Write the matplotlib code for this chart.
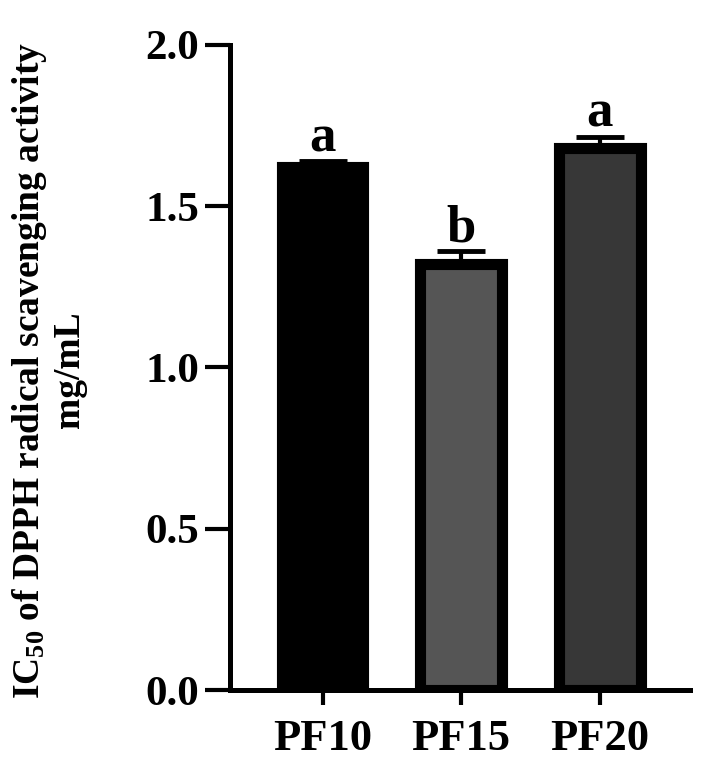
import numpy as np
import matplotlib
matplotlib.use("Agg")
import matplotlib.pyplot as plt

plt.rcParams['font.family'] = ['Liberation Serif', 'DejaVu Serif']
plt.rcParams['font.weight'] = 'bold'
plt.rcParams['mathtext.fontset'] = 'custom'
plt.rcParams['mathtext.rm'] = 'Liberation Serif:bold'
plt.rcParams['mathtext.bf'] = 'Liberation Serif:bold'
plt.rcParams['mathtext.default'] = 'bf'

# data
groups = ["PF10", "PF15", "PF20"]
ic50 = [1.62, 1.32, 1.68]
err = [0.02, 0.04, 0.035]
letters = ["a", "b", "a"]
fills = ["#000000", "#555555", "#373737"]
yticks = [0.0, 0.5, 1.0, 1.5, 2.0]

fig = plt.figure(figsize=(7.09, 7.71), dpi=100)
ax = fig.add_axes([0.324, 0.105, 0.649, 0.837])

x = np.arange(len(groups))
ax.bar(x, ic50, width=0.59, color=fills, edgecolor="black", linewidth=8, zorder=2)
ax.errorbar(x, ic50, yerr=[np.zeros(len(err)), err], fmt="none", ecolor="black",
            elinewidth=3, capsize=17, capthick=3.5, zorder=1)

for xi, v, e, lab in zip(x, ic50, err, letters):
    ax.text(xi, v + e + 0.03, lab, ha="center", va="baseline", fontsize=38,
            fontweight="bold")

ax.set_xlim(-0.67, 2.65)
ax.set_ylim(0, 2.0)
ax.set_yticks(yticks)
ax.set_yticklabels([f"{t:.1f}" for t in yticks])
ax.set_xticks(x)
ax.set_xticklabels(groups)

for s in ["top", "right"]:
    ax.spines[s].set_visible(False)
for s in ["left", "bottom"]:
    ax.spines[s].set_linewidth(3.6)

ax.tick_params(axis="y", length=18, width=3, labelsize=31, pad=4)
ax.tick_params(axis="x", length=11, width=3, labelsize=32, pad=10)
for lab in ax.get_xticklabels() + ax.get_yticklabels():
    lab.set_fontweight("bold")

fig.text(0.068, 0.52, "IC$_{50}$ of DPPH radical scavenging activity\nmg/mL",
         rotation=90, ha="center", va="center", fontsize=27, fontweight="bold",
         multialignment="center", linespacing=1.1)

fig.savefig("out.png", dpi=100)
